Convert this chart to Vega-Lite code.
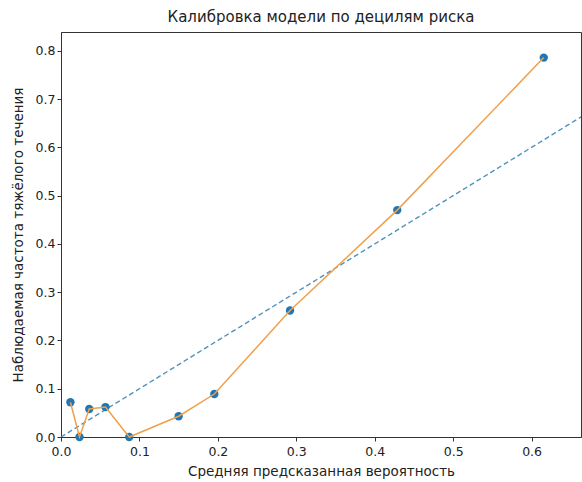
{
  "$schema": "https://vega.github.io/schema/vega-lite/v6.json",
  "width": 520,
  "height": 405,
  "autosize": {"type": "none"},
  "padding": {"left": 61, "top": 32, "right": 1, "bottom": 45},
  "background": "white",
  "config": {
    "font": "DejaVu Sans",
    "view": {"stroke": "#333333", "strokeWidth": 1},
    "axis": {
      "grid": false,
      "domainColor": "#333333",
      "tickColor": "#333333",
      "tickSize": 4,
      "labelFont": "DejaVu Sans",
      "labelFontSize": 12.5,
      "labelColor": "#222222",
      "titleFont": "DejaVu Sans",
      "titleFontSize": 13.5,
      "titleFontWeight": "normal",
      "titleColor": "#222222",
      "labelFlush": false
    },
    "title": {"font": "DejaVu Sans", "fontSize": 15, "fontWeight": "normal", "color": "#222222"}
  },
  "title": {"text": "Калибровка модели по децилям риска", "offset": 7},
  "datasets": {
    "calib": [
      {"pred": 0.012, "obs": 0.072},
      {"pred": 0.0236, "obs": 0.0},
      {"pred": 0.036, "obs": 0.058},
      {"pred": 0.0567, "obs": 0.062},
      {"pred": 0.087, "obs": 0.0},
      {"pred": 0.150, "obs": 0.043},
      {"pred": 0.1955, "obs": 0.089},
      {"pred": 0.292, "obs": 0.262},
      {"pred": 0.4287, "obs": 0.470},
      {"pred": 0.6155, "obs": 0.786}
    ],
    "diag": [
      {"pred": 0, "obs": 0},
      {"pred": 1, "obs": 1}
    ]
  },
  "layer": [
    {
      "data": {"name": "diag"},
      "mark": {"type": "line", "clip": true, "strokeDash": [5, 3], "color": "#4f93bd", "strokeWidth": 1.4},
      "encoding": {
        "x": {"field": "pred", "type": "quantitative"},
        "y": {"field": "obs", "type": "quantitative"}
      }
    },
    {
      "data": {"name": "calib"},
      "mark": {"type": "point", "filled": true, "size": 70, "color": "#1f77b4", "opacity": 1},
      "encoding": {
        "x": {"field": "pred", "type": "quantitative"},
        "y": {"field": "obs", "type": "quantitative"}
      }
    },
    {
      "data": {"name": "calib"},
      "mark": {"type": "line", "color": "#f0a04b", "strokeWidth": 1.5},
      "encoding": {
        "x": {
          "field": "pred", "type": "quantitative",
          "scale": {"domain": [0, 0.663], "nice": false, "zero": false},
          "axis": {"title": "Средняя предсказанная вероятность", "values": [0, 0.1, 0.2, 0.3, 0.4, 0.5, 0.6], "format": ".1f", "labelPadding": 4, "titlePadding": 7}
        },
        "y": {
          "field": "obs", "type": "quantitative",
          "scale": {"domain": [0, 0.839], "nice": false, "zero": false},
          "axis": {"title": "Наблюдаемая частота тяжёлого течения", "values": [0, 0.1, 0.2, 0.3, 0.4, 0.5, 0.6, 0.7, 0.8], "format": ".1f", "titlePadding": 10}
        }
      }
    }
  ]
}
